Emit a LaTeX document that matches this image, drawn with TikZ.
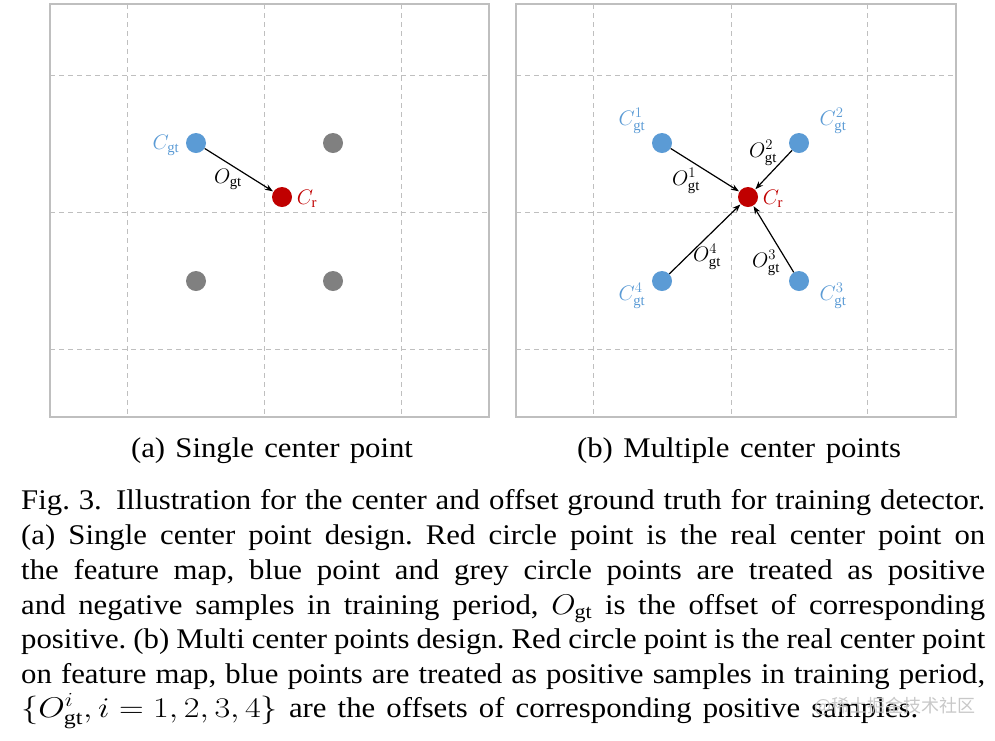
\RequirePackage{fix-cm}
\documentclass[tikz,border=0pt]{standalone}
\usepackage{fontspec}
\usepackage{graphicx}
\setmainfont{Liberation Serif}
\newfontfamily\capfont{Liberation Serif}[FakeStretch=1.08]
\newfontfamily\cjk{Noto Sans CJK SC}
\usetikzlibrary{arrows.meta}
\definecolor{gtblue}{RGB}{91,155,213}
\definecolor{crred}{RGB}{192,0,0}
\definecolor{neggray}{RGB}{128,128,128}
\definecolor{gridgray}{RGB}{191,191,191}
\definecolor{wmgray}{RGB}{200,200,200}
\newcommand{\wmath}[1]{\scalebox{1.1}[1]{$#1$}}
\tikzset{
  panel/.style={draw=gridgray, line width=1.3pt},
  gridline/.style={draw=gridgray, line width=0.9pt, dash pattern=on 5pt off 4pt},
  dotnode/.style={circle, inner sep=0pt, minimum size=20pt},
  bluedot/.style={dotnode, fill=gtblue},
  reddot/.style={dotnode, fill=crred},
  graydot/.style={dotnode, fill=neggray},
  offarrow/.style={-{Stealth[length=8pt,width=6pt]}, line width=1.2pt, black, shorten >=0.5pt},
  lbl/.style={inner sep=0pt, font=\fontsize{21}{25}\selectfont},
  caplbl/.style={inner sep=0pt, font=\capfont\frenchspacing\fontsize{28.5}{34}\selectfont},
  capline/.style={inner sep=0pt, anchor=base west, font=\capfont\frenchspacing\fontsize{28.5}{34}\selectfont}
}
\begin{document}
\begin{tikzpicture}[x=1pt,y=-1pt]
\useasboundingbox (0,0) rectangle (995,740);
% ---------- left panel ----------
\foreach \x in {127,264,401} \draw[gridline] (\x,4) -- (\x,417);
\foreach \y in {75,212,349} \draw[gridline] (50,\y) -- (489,\y);
\draw[panel] (50,4) rectangle (489,417);
\node[bluedot] (lb) at (196,143) {};
\node[graydot] (g1) at (333,143) {};
\node[graydot] (g2) at (196,281) {};
\node[graydot] (g3) at (333,281) {};
\node[reddot] (lr) at (282,197) {};
\draw[offarrow] (lb) -- (lr);
\node[lbl, text=gtblue] (lcgt) at (166,145) {$C_{\mathrm{gt}}$};
\node[lbl] (logt) at (228,179) {$O_{\mathrm{gt}}$};
\node[lbl, text=crred] (lcr) at (307,199) {$C_{\mathrm{r}}$};
% ---------- right panel ----------
\foreach \x in {593,731,867} \draw[gridline] (\x,4) -- (\x,417);
\foreach \y in {75,212,349} \draw[gridline] (516,\y) -- (956,\y);
\draw[panel] (516,4) rectangle (956,417);
\node[bluedot] (b1) at (662,143) {};
\node[bluedot] (b2) at (799,143) {};
\node[bluedot] (b3) at (799,281) {};
\node[bluedot] (b4) at (662,281) {};
\node[reddot] (rr) at (748,197) {};
\draw[offarrow] (b1) -- (rr);
\draw[offarrow] (b2) -- (rr);
\draw[offarrow] (b3) -- (rr);
\draw[offarrow] (b4) -- (rr);
\node[lbl, text=gtblue] (c1) at (632,121) {$C^{1}_{\mathrm{gt}}$};
\node[lbl, text=gtblue] (c2) at (833,121) {$C^{2}_{\mathrm{gt}}$};
\node[lbl, text=gtblue] (c3) at (833,296) {$C^{3}_{\mathrm{gt}}$};
\node[lbl, text=gtblue] (c4) at (632,296) {$C^{4}_{\mathrm{gt}}$};
\node[lbl] (o1) at (686,181) {$O^{1}_{\mathrm{gt}}$};
\node[lbl] (o2) at (763,153) {$O^{2}_{\mathrm{gt}}$};
\node[lbl] (o3) at (766,263) {$O^{3}_{\mathrm{gt}}$};
\node[lbl] (o4) at (707,257) {$O^{4}_{\mathrm{gt}}$};
\node[lbl, text=crred] (rcr) at (773,199) {$C_{\mathrm{r}}$};
% ---------- sub-captions ----------
\node[caplbl, anchor=base] (sa) at (272,457) {\makebox[282pt][s]{(a) Single center point}};
\node[caplbl, anchor=base] (sb) at (739,457) {\makebox[324pt][s]{(b) Multiple center points}};
% ---------- caption ----------
\node[capline] (l1) at (21,509) {\makebox[964pt][s]{Fig. 3.\enspace Illustration for the center and offset ground truth for training detector.}};
\node[capline] (l2) at (21,544) {\makebox[964pt][s]{(a) Single center point design. Red circle point is the real center point on}};
\node[capline] (l3) at (21,579) {\makebox[964pt][s]{the feature map, blue point and grey circle points are treated as positive}};
\node[capline] (l4) at (21,614) {\makebox[964pt][s]{and negative samples in training period, \wmath{O_{\mathrm{gt}}} is the offset of corresponding}};
\node[capline] (l5) at (21,648) {\makebox[964pt][s]{positive. (b) Multi center points design. Red circle point is the real center point}};
\node[capline] (l6) at (21,683) {\makebox[964pt][s]{on feature map, blue points are treated as positive samples in training period,}};
\node[capline] (l7) at (21,717) {\makebox[897pt][s]{\scalebox{1.2}[1]{$\{O^{i}_{\mathrm{gt}}, i=1,2,3,4\}$} are the offsets of corresponding positive samples.}};
% ---------- watermark ----------
\node[inner sep=0pt, text=wmgray, font=\cjk\fontsize{18}{20}\selectfont] (wm) at (895,706) {@稀土掘金技术社区};
\end{tikzpicture}
\end{document}
